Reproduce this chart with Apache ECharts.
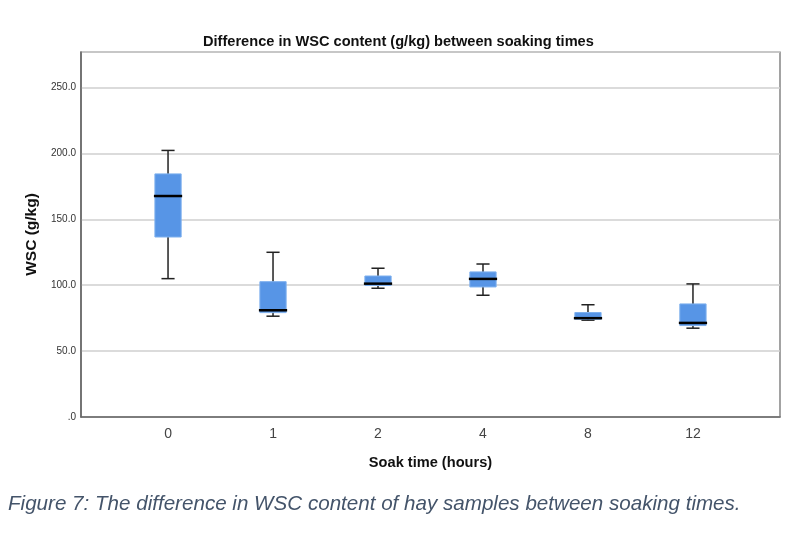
<!DOCTYPE html>
<html>
<head>
<meta charset="utf-8">
<script src="https://cdn.jsdelivr.net/npm/echarts@6/dist/echarts.min.js"></script>
<style>
  html, body { margin: 0; padding: 0; background: #fff; }
  #chart { width: 799px; height: 535px; }
</style>
</head>
<body>
<div id="chart"></div>
<script>
// soak times (hours) and box stats
const categories = ['0', '1', '2', '4', '8', '12']
const mins    = [105.0, 76.5, 97.7, 92.4, 73.5, 67.4]
const q1s     = [136.6, 79.2, 99.8, 98.7, 74.2, 69.4]
const medians = [167.7, 81.0, 101.2, 104.8, 75.0, 71.4]
const q3s     = [184.5, 102.7, 107.0, 110.1, 79.3, 85.8]
const maxs    = [202.3, 125.0, 112.9, 116.1, 85.2, 101.0]
const yTicks  = [0, 50, 100, 150, 200, 250]

const boxData = categories.map((c, i) => [i, mins[i], q1s[i], medians[i], q3s[i], maxs[i]])

const chart = echarts.init(document.getElementById('chart'))

function renderBox(params, api) {
  const x = api.value(0)
  const band = api.size([1, 0])[0]
  const boxW = band * 0.25
  const capW = band * 0.125
  const pMin = api.coord([x, api.value(1)])
  const pQ1 = api.coord([x, api.value(2)])
  const pMed = api.coord([x, api.value(3)])
  const pQ3 = api.coord([x, api.value(4)])
  const pMax = api.coord([x, api.value(5)])
  const cx = pMed[0]
  const lineStyle = { stroke: '#222', lineWidth: 1.5 }
  return {
    type: 'group',
    children: [
      // 须线
      { type: 'line', shape: { x1: cx, y1: pMax[1], x2: cx, y2: pMin[1] }, style: lineStyle },
      { type: 'line', shape: { x1: cx - capW / 2, y1: pMax[1], x2: cx + capW / 2, y2: pMax[1] }, style: lineStyle },
      { type: 'line', shape: { x1: cx - capW / 2, y1: pMin[1], x2: cx + capW / 2, y2: pMin[1] }, style: lineStyle },
      // 箱体
      {
        type: 'rect',
        shape: { x: cx - boxW / 2, y: pQ3[1], width: boxW, height: pQ1[1] - pQ3[1] },
        style: { fill: '#5795e6', stroke: '#7eb0ee', lineWidth: 1 }
      },
      // 中位数
      {
        type: 'line',
        shape: { x1: cx - boxW / 2 - 1, y1: pMed[1], x2: cx + boxW / 2 + 1, y2: pMed[1] },
        style: { stroke: '#000', lineWidth: 2.5 }
      }
    ]
  }
}

const option = {
  animation: false,
  textStyle: { fontFamily: 'Liberation Sans' },
  title: [
    {
      text: 'Difference in WSC content (g/kg) between soaking times',
      left: 198, top: 29,
      textStyle: { fontSize: 14.6, fontWeight: 'bold', color: '#111', fontFamily: 'Liberation Sans' }
    },
    {
      text: 'Figure 7: The difference in WSC content of hay samples between soaking times.',
      left: 3, top: 489,
      textStyle: { fontSize: 20.6, fontStyle: 'italic', fontWeight: 'normal', color: '#44546a', fontFamily: 'Liberation Sans' }
    }
  ],
  grid: {
    left: 81, right: 19, top: 52, bottom: 118,
    show: true, borderColor: '#666', borderWidth: 1.2
  },
  xAxis: {
    type: 'value',
    min: -0.829, max: 5.829,
    name: 'Soak time (hours)',
    nameLocation: 'middle',
    nameGap: 38,
    nameTextStyle: { fontSize: 14.6, fontWeight: 'bold', color: '#111' },
    axisLine: { show: true, onZero: false, lineStyle: { color: '#666', width: 1.5 } },
    axisTick: { show: false },
    splitLine: { show: false },
    axisLabel: {
      customValues: categories.map((c, i) => i),
      formatter: v => categories[Math.round(v)],
      fontSize: 14, color: '#444', margin: 10
    }
  },
  yAxis: {
    type: 'value',
    min: 0, max: 277, interval: 50,
    name: 'WSC (g/kg)',
    nameLocation: 'middle',
    nameGap: 39,
    nameTextStyle: { fontSize: 15.5, fontWeight: 'bold', color: '#111' },
    axisLine: { show: true, onZero: false, lineStyle: { color: '#666', width: 1.5 } },
    axisTick: { show: false },
    splitLine: { show: true, lineStyle: { color: '#cfcfcf', width: 1.5 } },
    axisLabel: {
      customValues: yTicks,
      formatter: v => v === 0 ? '.0' : v.toFixed(1),
      fontSize: 10, color: '#333', margin: 5
    }
  },
  series: [{
    type: 'custom',
    renderItem: renderBox,
    encode: { x: 0, y: [1, 2, 3, 4, 5] },
    data: boxData
  }]
}

chart.setOption(option)
</script>
</body>
</html>
